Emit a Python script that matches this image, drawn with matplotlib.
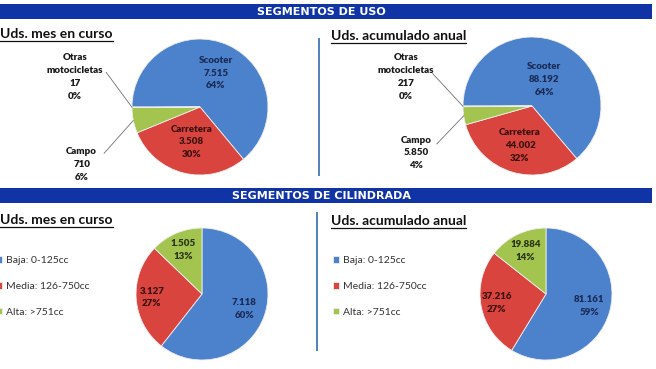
import numpy as np
import matplotlib
matplotlib.use("Agg")
import matplotlib.pyplot as plt

# data
uso_cats = ['Scooter', 'Carretera', 'Campo', 'Otras\nmotocicletas']
uso_mes = [7515, 3508, 710, 17]
uso_mes_pct = [64, 30, 6, 0]
uso_anual = [88192, 44002, 5850, 217]
uso_anual_pct = [64, 32, 4, 0]

cil_cats = ['Baja: 0-125cc', 'Media: 126-750cc', 'Alta: >751cc']
cil_mes = [7118, 3127, 1505]
cil_mes_pct = [60, 27, 13]
cil_anual = [81161, 37216, 19884]
cil_anual_pct = [59, 27, 14]

W, H = 656, 369
BLUE, RED, GREEN = '#4C82CB', '#D9443F', '#A3C54F'
TXT_IN = ['#1B2B58', '#3A1210', '#2A3512']
FONT = 'Lato'
LW = 'heavy'

fig = plt.figure(figsize=(W / 100, H / 100), dpi=100)
bg = fig.add_axes([0, 0, 1, 1])
bg.set_xlim(0, W)
bg.set_ylim(H, 0)
bg.axis('off')


def fmt(v):
    return f"{v:,}".replace(',', '.')


def banner(y0, y1, text):
    bg.fill_between([0, 652], y0, y1, color='#1034A6', lw=0)
    bg.text(321, (y0 + y1) / 2 + 0.5, text, color='white', fontsize=8,
            fontweight='bold', family='DejaVu Sans', ha='center', va='center')


def subtitle(x, y, text):
    t = bg.text(x, y, text, fontsize=10, fontweight='bold', family=FONT,
                color='#111111', ha='left', va='baseline')
    return t


def pie_ax(cx, cy, r):
    return fig.add_axes([(cx - r) / W, 1 - (cy + r) / H, 2 * r / W, 2 * r / H])


def mid_xy(w, d):
    th = np.deg2rad((w.theta1 + w.theta2) / 2)
    return d * np.cos(th), d * np.sin(th)


def uso_pie(cx, cy, r, vals, pcts, d_in, otras_pos, campo_pos):
    ax = pie_ax(cx, cy, r)
    wedges, _ = ax.pie(vals, colors=[BLUE, RED, GREEN, GREEN], startangle=180,
                       counterclock=False,
                       wedgeprops=dict(edgecolor='#eeeeee', linewidth=0.6))
    ax.set_xlim(-1, 1)
    ax.set_ylim(-1, 1)
    ax.axis('off')
    for i in range(2):
        x, y = mid_xy(wedges[i], d_in[i])
        ax.text(x, y, f"{uso_cats[i]}\n{fmt(vals[i])}\n{pcts[i]}%",
                ha='center', va='center', fontsize=7, fontweight=LW,
                family=FONT, color=TXT_IN[i], linespacing=1.55)
    # outside labels with leader lines
    for i, pos in zip([3, 2], [otras_pos, campo_pos]):
        tx, ty, sx, sy = pos
        ax.text(tx, ty, f"{uso_cats[i]}\n{fmt(vals[i])}\n{pcts[i]}%",
                ha='center', va='center', fontsize=7, fontweight=LW,
                family=FONT, color='#1a1a1a', linespacing=1.55, clip_on=False)
        ex, ey = mid_xy(wedges[i], 1.0)
        ax.plot([sx, ex], [sy, ey], color='#707070', lw=0.6, clip_on=False)
    return ax


def cil_pie(cx, cy, r, vals, pcts, leg_x):
    ax = pie_ax(cx, cy, r)
    wedges, _ = ax.pie(vals, colors=[BLUE, RED, GREEN], startangle=90,
                       counterclock=False,
                       wedgeprops=dict(edgecolor='#eeeeee', linewidth=0.6))
    ax.set_xlim(-1, 1)
    ax.set_ylim(-1, 1)
    ax.axis('off')
    for i, d in enumerate([0.68, 0.76, 0.72]):
        x, y = mid_xy(wedges[i], d)
        ax.text(x, y, f"{fmt(vals[i])}\n{pcts[i]}%", ha='center', va='center',
                fontsize=7, fontweight=LW, family=FONT, color=TXT_IN[i],
                linespacing=1.55)
    ax.legend(wedges, cil_cats, loc='center left',
              bbox_to_anchor=(leg_x / W, 1 - 286.5 / H), bbox_transform=fig.transFigure,
              frameon=False, borderpad=0, borderaxespad=0, handlelength=0.6,
              handleheight=0.6, handletextpad=0.35, labelspacing=1.6,
              prop=dict(family=FONT, size=7.5), labelcolor='#333333')
    return ax


banner(4, 19, 'SEGMENTOS DE USO')
banner(188, 203, 'SEGMENTOS DE CILINDRADA')

# separators
bg.plot([319, 319], [39, 175], color='#4F81BD', lw=1.4)
bg.plot([317, 317], [213, 350], color='#4F81BD', lw=1.4)

subs = [subtitle(0, 38, 'Uds. mes en curso'),
        subtitle(331, 40, 'Uds. acumulado anual'),
        subtitle(0, 224, 'Uds. mes en curso'),
        subtitle(331, 225, 'Uds. acumulado anual')]

uso_pie(200, 107, 68, uso_mes, uso_mes_pct, [0.55, 0.53],
        (-1.84, 0.44, -1.38, 0.51), (-1.74, -0.85, -1.41, -0.68))
uso_pie(532, 106, 69, uso_anual, uso_anual_pct, [0.42, 0.60],
        (-1.83, 0.42, -1.44, 0.47), (-1.68, -0.68, -1.38, -0.55))
cil_pie(202, 294, 66, cil_mes, cil_mes_pct, -4)
cil_pie(546, 294, 66, cil_anual, cil_anual_pct, 333)

# underline the subtitles
fig.canvas.draw()
for t in subs:
    bb = t.get_window_extent()
    y = H - bb.y0 + 1
    bg.plot([bb.x0, bb.x1], [y, y], color='#111111', lw=0.9)

fig.savefig('out.png', dpi=100)
